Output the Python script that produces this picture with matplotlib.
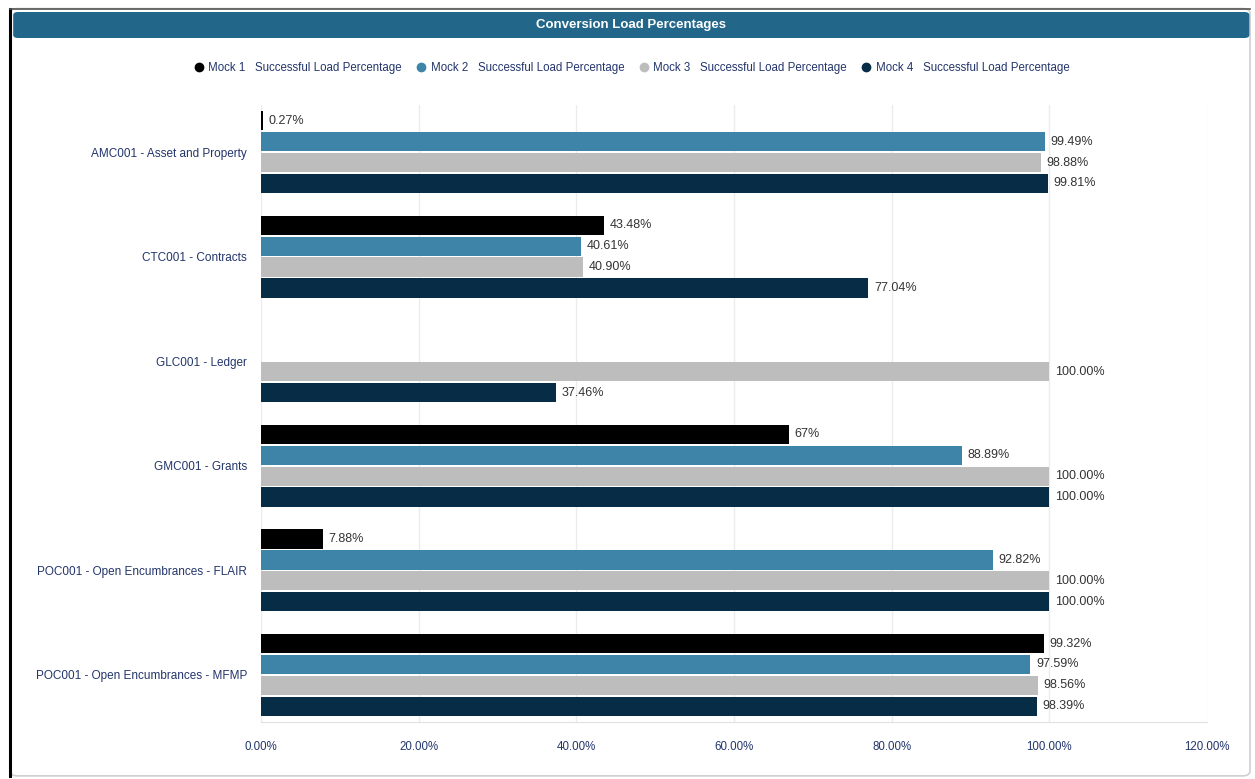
import numpy as np
import matplotlib
matplotlib.use("Agg")
import matplotlib.pyplot as plt
from matplotlib.patches import FancyBboxPatch
from matplotlib.lines import Line2D

plt.rcParams["font.family"] = ["Liberation Sans", "DejaVu Sans"]

categories = [
    "AMC001 - Asset and Property",
    "CTC001 - Contracts",
    "GLC001 - Ledger",
    "GMC001 - Grants",
    "POC001 - Open Encumbrances - FLAIR",
    "POC001 - Open Encumbrances - MFMP",
]
series_names = [
    "Mock 1   Successful Load Percentage",
    "Mock 2   Successful Load Percentage",
    "Mock 3   Successful Load Percentage",
    "Mock 4   Successful Load Percentage",
]
mock1 = [0.27, 43.48, None, 67.0, 7.88, 99.32]
mock2 = [99.49, 40.61, None, 88.89, 92.82, 97.59]
mock3 = [98.88, 40.90, 100.00, 100.00, 100.00, 98.56]
mock4 = [99.81, 77.04, 37.46, 100.00, 100.00, 98.39]
mock1_labels = ["0.27%", "43.48%", None, "67%", "7.88%", "99.32%"]
x_ticks = [0, 20, 40, 60, 80, 100, 120]
x_ticklabels = ["0.00%", "20.00%", "40.00%", "60.00%", "80.00%", "100.00%", "120.00%"]

colors = ["#000000", "#3d84a8", "#bdbdbd", "#062c46"]
navy = "#23356b"

fig = plt.figure(figsize=(12.55, 7.79), dpi=100)

# outer card + title bar
fig.patches.append(FancyBboxPatch((0.008, 0.004), 0.988, 0.985,
                                  boxstyle="round,pad=0,rounding_size=0.006",
                                  transform=fig.transFigure, facecolor="white",
                                  edgecolor="#cfcfcf", lw=1.2, zorder=0))
fig.add_artist(Line2D([0.008, 0.008], [0.004, 0.989], color="black", lw=2.2,
                      transform=fig.transFigure))
fig.add_artist(Line2D([0.008, 0.996], [0.989, 0.989], color="#555555", lw=1.2,
                      transform=fig.transFigure))
fig.patches.append(FancyBboxPatch((0.0105, 1 - 38 / 779), 0.985, 26 / 779,
                                  boxstyle="round,pad=0,rounding_size=0.004",
                                  transform=fig.transFigure, facecolor="#226689",
                                  edgecolor="none", zorder=1))
fig.text(0.503, 1 - 25 / 779, "Conversion Load Percentages", color="white",
         fontsize=9.5, fontweight="bold", ha="center", va="center")

ax = fig.add_axes([261 / 1255, 1 - 722 / 779, (1207 - 261) / 1255, (722 - 105) / 779])
ax.set_zorder(5)
ax.patch.set_alpha(0)

y = np.arange(len(categories))
offsets = [-0.3, -0.1, 0.1, 0.3]
data = [mock1, mock2, mock3, mock4]
for k, (vals, c, off) in enumerate(zip(data, colors, offsets)):
    for i, v in enumerate(vals):
        if v is None:
            continue
        ax.barh(y[i] + off, v, height=0.185, color=c, zorder=3)
        txt = mock1_labels[i] if k == 0 else f"{v:.2f}%"
        ax.annotate(txt, (v, y[i] + off), xytext=(4, 0), textcoords="offset points",
                    va="center", ha="left", fontsize=9, color="#333333")

ax.set_xlim(0, 120)
ax.set_ylim(len(categories) - 0.55, -0.45)
ax.set_xticks(x_ticks)
ax.set_xticklabels(x_ticklabels, color=navy, fontsize=8.3)
ax.set_yticks(y)
ax.set_yticklabels(categories, color=navy, fontsize=8.5)
ax.tick_params(axis="both", length=0)
ax.tick_params(axis="x", pad=14)
ax.tick_params(axis="y", pad=10)
ax.grid(axis="x", color="#ececec", lw=1, zorder=0)
for s in ["top", "right", "left"]:
    ax.spines[s].set_visible(False)
ax.spines["bottom"].set_color("#e0e0e0")

handles = [Line2D([], [], marker="o", ls="", color=c, markersize=6) for c in colors]
fig.legend(handles, series_names, loc="center", bbox_to_anchor=(0.503, 1 - 68 / 779),
           ncol=4, frameon=False, fontsize=8.3, labelcolor=navy, handletextpad=0.3,
           columnspacing=1.2, handlelength=1.0)

fig.savefig("out.png", dpi=100)
